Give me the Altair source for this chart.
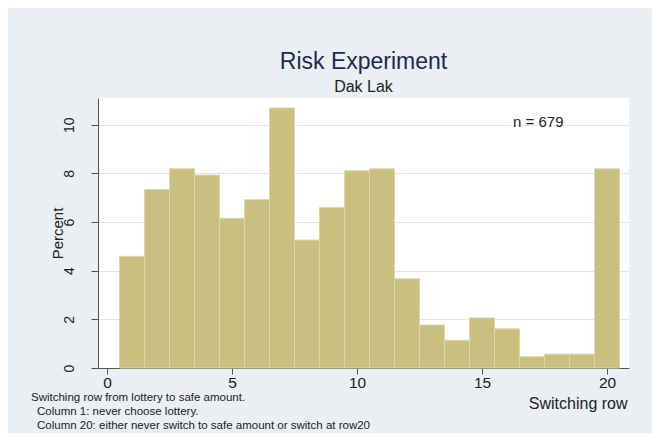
import altair as alt
import pandas as pd

# ---- data ----
rows = list(range(1, 21))
percents = [4.59, 7.34, 8.19, 7.93, 6.15, 6.92, 10.69, 5.26, 6.60, 8.11,
            8.19, 3.67, 1.77, 1.14, 2.06, 1.61, 0.46, 0.57, 0.57, 8.19]
x_ticks = [0, 5, 10, 15, 20]
y_ticks = [0, 2, 4, 6, 8, 10]
notes = ["Switching row from lottery to safe amount.",
         "Column 1: never choose lottery.",
         "Column 20: either never switch to safe amount or switch at row20"]
n_text = ["n = 679"]
n_x = [17.25]
n_y = [10.1]

df = pd.DataFrame({"row": rows, "pct": percents})
df["lo"] = df["row"] - 0.5
df["hi"] = df["row"] + 0.5
df["zero"] = 0.0

W, H = 531, 270
FONT = "Liberation Sans"
xscale = alt.Scale(domain=[-0.36, 20.88], nice=False, zero=False)
yscale = alt.Scale(domain=[0, 11.1], nice=False)

bars = alt.Chart(df).mark_rect(color="#c9bf7e", stroke="#ddd6a6", strokeWidth=1).encode(
    x=alt.X("lo:Q", scale=xscale,
            axis=alt.Axis(values=x_ticks, title="Switching row", grid=False,
                          labelFontSize=15.5, labelColor="#222222", labelPadding=1,
                          tickSize=6, tickColor="#555555", domainColor="#555555",
                          titleFontSize=16, titleFontWeight="normal", titleColor="#222222",
                          titleX=W - 2, titleY=40, titleAlign="right",
                          titleBaseline="alphabetic", titleAnchor="end")),
    x2="hi:Q",
    y=alt.Y("pct:Q", scale=yscale,
            axis=alt.Axis(values=y_ticks, title="Percent", grid=True,
                          gridColor="#e4e4e4", labelAngle=270,
                          labelFontSize=14, labelColor="#222222", labelPadding=15,
                          tickSize=7, tickColor="#555555", domainColor="#555555",
                          titleFontSize=15, titleFontWeight="normal", titleColor="#222222",
                          titleX=-41, titleY=H / 2, titleBaseline="middle",
                          titleAlign="center", titleAngle=270)),
    y2="zero:Q",
)

ann = alt.Chart(pd.DataFrame({"t": n_text, "x": n_x, "y": n_y})).mark_text(
    fontSize=15, font=FONT, color="#222222", baseline="middle", align="center"
).encode(x=alt.X("x:Q", scale=xscale), y=alt.Y("y:Q", scale=yscale), text="t:N")

note1 = alt.Chart(pd.DataFrame({"t": [notes[0]]})).mark_text(
    fontSize=11.5, font=FONT, color="#222222", align="left", baseline="alphabetic"
).encode(x=alt.value(-67), y=alt.value(302.5), text="t:N")

note2 = alt.Chart(pd.DataFrame({"t": ["\n".join(notes[1:])]})).mark_text(
    fontSize=11.5, font=FONT, color="#222222", align="left", baseline="alphabetic",
    lineBreak="\n", lineHeight=14.5
).encode(x=alt.value(-61), y=alt.value(316.5), text="t:N")

chart = alt.layer(bars, ann, note1, note2).properties(
    width=W, height=H,
    title=alt.TitleParams("Risk Experiment", subtitle="Dak Lak", anchor="middle",
                          fontSize=23, font=FONT, fontWeight="normal", color="#1c2b4e",
                          subtitleFontSize=16, subtitleFont=FONT, subtitleColor="#222222",
                          subtitlePadding=5, offset=3),
    autosize=alt.AutoSizeParams(type="none"),
    padding={"left": 90, "top": 90, "right": 23, "bottom": 65},
    background="#e9eff2",
).configure_view(stroke=None, fill="white").configure_axis(
    labelFont=FONT, titleFont=FONT
)

chart.save("out.html", embed_options={"renderer": "svg", "actions": False})
